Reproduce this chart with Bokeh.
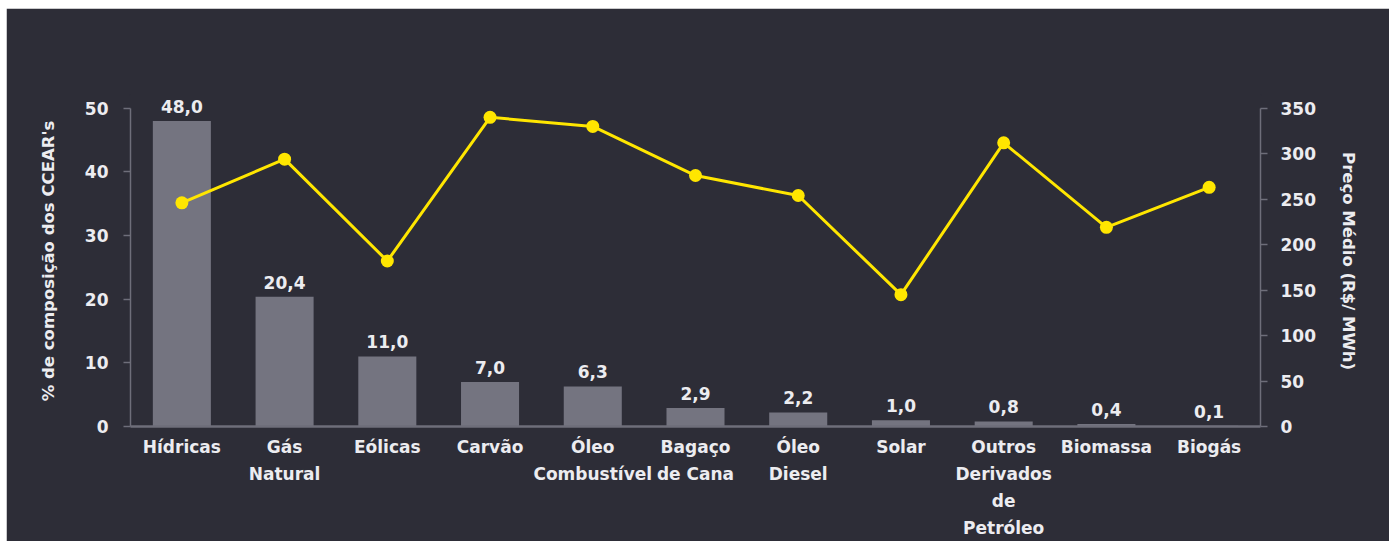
from bokeh.plotting import figure
from bokeh.models import Range1d, LinearAxis, FixedTicker, ColumnDataSource, Spacer
from bokeh.layouts import column, row
from bokeh.core.properties import value
from bokeh.embed import file_html
from bokeh.resources import INLINE

# ---- data ----
categories = ["Hídricas", "Gás\nNatural", "Eólicas", "Carvão", "Óleo\nCombustível",
              "Bagaço\nde Cana", "Óleo\nDiesel", "Solar", "Outros\nDerivados\nde\nPetróleo",
              "Biomassa", "Biogás"]
share_pct = [48.0, 20.4, 11.0, 7.0, 6.3, 2.9, 2.2, 1.0, 0.8, 0.4, 0.1]
price_mwh = [246, 294, 182, 340, 330, 276, 254, 145, 312, 219, 263]
left_ticks = [0, 10, 20, 30, 40, 50]
right_ticks = [0, 50, 100, 150, 200, 250, 300, 350]

BG = "#2d2d37"
BAR = "#747480"
YEL = "#ffe600"
TXT = "#ececf0"
AX = "#6e6e7a"
FONT = "DejaVu Sans"

src = ColumnDataSource(dict(
    cat=categories, share=share_pct, price=price_mwh,
    lab=[f"{v:.1f}".replace(".", ",") for v in share_pct],
))

# frame extends a little above 50 so the top value label is not clipped
p = figure(x_range=categories, y_range=Range1d(0, 52),
           width=1383, height=533,
           min_border_left=124, min_border_right=129,
           min_border_top=87, min_border_bottom=115,
           output_backend="svg", toolbar_location=None,
           background_fill_color=BG, border_fill_color=BG,
           outline_line_color=BG, outline_line_width=3)
p.extra_y_ranges = {"price": Range1d(0, 364)}
p.x_range.range_padding = 0
p.xgrid.visible = False
p.ygrid.visible = False

p.vbar(x="cat", top="share", width=0.565, source=src, color=BAR, line_color=None)
p.text(x="cat", y="share", text="lab", source=src, y_offset=-8,
       text_align="center", text_baseline="bottom",
       text_font=value(FONT), text_font_style="bold",
       text_font_size="17px", text_color=TXT)

p.line(x="cat", y="price", source=src, y_range_name="price", color=YEL, line_width=3)
p.scatter(x="cat", y="price", source=src, y_range_name="price", size=13,
          color=YEL, line_color=None)

# left axis
ya = p.yaxis[0]
ya.ticker = FixedTicker(ticks=left_ticks)
ya.bounds = (0, 50)
ya.axis_label = "% de composição dos CCEAR's"

# right axis
ra = LinearAxis(y_range_name="price", ticker=FixedTicker(ticks=right_ticks),
                bounds=(0, 350), axis_label="Preço Médio (R$/ MWh)")
p.add_layout(ra, "right")

for ax in (ya, ra):
    ax.axis_line_color = AX
    ax.axis_line_width = 1.5
    ax.major_tick_line_color = AX
    ax.major_tick_line_width = 1.5
    ax.major_tick_out = 7
    ax.major_tick_in = 0
    ax.minor_tick_line_color = None
    ax.major_label_text_font = FONT
    ax.major_label_text_font_style = "bold"
    ax.major_label_text_font_size = "17px"
    ax.major_label_text_color = TXT
    ax.axis_label_text_font = FONT
    ax.axis_label_text_font_style = "bold"
    ax.axis_label_text_font_size = "16.5px"
    ax.axis_label_text_color = TXT
ya.major_label_standoff = 15
ya.axis_label_standoff = 24
ra.major_label_standoff = 13
ra.axis_label_standoff = 20

xa = p.xaxis[0]
xa.axis_line_color = AX
xa.axis_line_width = 2.5
xa.major_tick_line_color = None
xa.major_tick_out = 0
xa.major_tick_in = 0
xa.minor_tick_line_color = None
xa.major_label_text_font = FONT
xa.major_label_text_font_style = "bold"
xa.major_label_text_font_size = "17px"
xa.major_label_text_color = TXT
xa.major_label_text_line_height = 1.35
xa.major_label_standoff = 10

layout = column(Spacer(height=8, width=1389),
                row(Spacer(width=6, height=533), p, spacing=0), spacing=0)

open("out.html", "w").write(file_html(layout, INLINE))
